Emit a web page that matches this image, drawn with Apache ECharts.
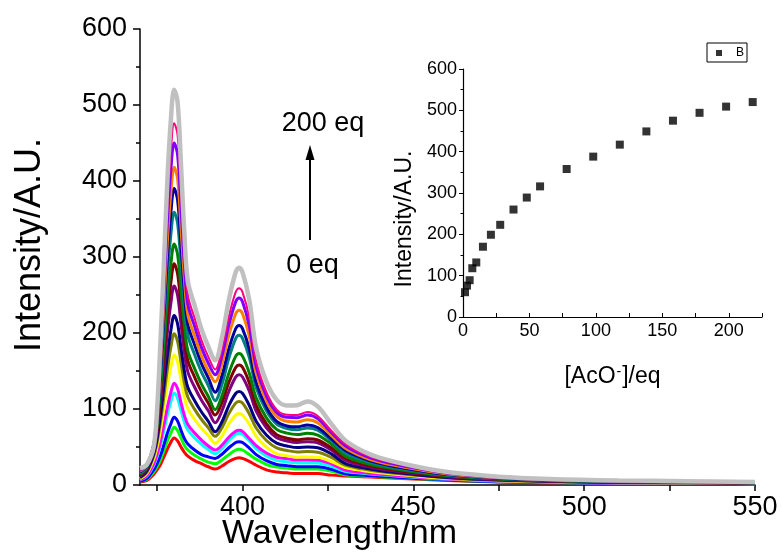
<!DOCTYPE html>
<html>
<head>
<meta charset="utf-8">
<script src="https://cdn.jsdelivr.net/npm/echarts@6/dist/echarts.min.js"></script>
<style>
html,body{margin:0;padding:0;background:#fff;}
#chart{width:782px;height:556px;}
</style>
</head>
<body>
<div id="chart"></div>
<script>
// ---- Data ----
const wavelengths = [370, 372, 374, 375, 376, 377, 378, 379, 380, 381, 382, 383, 384, 386, 388, 390, 392, 394, 396, 398, 399, 400, 402, 404, 407, 410, 413, 416, 419, 422, 426, 430, 435, 440, 450, 460, 475, 490, 510, 530, 550];

const eq000 = [4, 6, 14, 20, 27, 37, 47, 56, 62, 58, 50, 43, 38, 32, 28, 24, 21, 25, 31, 35, 36, 35, 31, 26, 20, 17, 16, 15, 15, 15, 13, 12, 11, 10, 8, 6, 4, 3, 2, 2, 1.5];
const eq01 = [5, 7.5, 17, 24, 33, 45, 58, 68, 76, 71.5, 62, 52, 46, 39, 34, 30, 28, 33, 40, 46, 47, 46, 40, 34, 27, 23.5, 22.4, 21, 21, 21, 18, 13.4, 12, 10.8, 8.5, 6.3, 4.2, 3.2, 2.1, 2.1, 1.6];
const eq02 = [5, 8.6, 20, 28, 39, 53, 68, 80, 89, 84, 72, 61, 54, 46, 40, 37, 35, 40.5, 49, 56, 57, 56, 48.5, 40, 32, 27, 25.5, 24, 24, 24, 20.7, 14.8, 13, 11.6, 9, 6.7, 4.4, 3.3, 2.2, 2.2, 1.7];
const eq03 = [6.3, 11.4, 25.7, 36.7, 52, 72, 92, 109, 121, 114, 98, 82.6, 72.3, 61.9, 53.6, 46.6, 41, 47.8, 58.6, 66.7, 68, 66.6, 57.8, 48, 38.2, 32.4, 30.6, 28.8, 29, 28.8, 24.7, 18.1, 15.4, 13.4, 10.2, 7.4, 4.9, 3.7, 2.5, 2.4, 1.8];
const eq04 = [6.9, 12.4, 28, 40, 57.4, 79.5, 102, 121, 134, 126.6, 108.5, 91.3, 79.7, 68.3, 59.1, 51.4, 46, 52.5, 62.9, 70.7, 72, 70.6, 61.2, 51.9, 42.1, 36.4, 34.7, 32.8, 33, 32.7, 28, 19.5, 16.4, 14.2, 10.7, 7.8, 5.1, 3.8, 2.6, 2.5, 1.9];
const eq05 = [8.3, 15.1, 33.8, 49.4, 72.2, 101, 130.4, 154.7, 171, 162, 138.5, 115.7, 100.4, 86.2, 74.7, 65, 55, 64.8, 80.4, 92, 94, 92, 80, 64.1, 49.9, 41.4, 38.5, 36.6, 37, 36.5, 30.9, 23.3, 19.2, 16.2, 12.1, 8.6, 5.7, 4.2, 3, 2.7, 2.1];
const eq06 = [9.4, 17, 37.8, 55.9, 83.1, 117, 151.8, 180.3, 199, 188.9, 161.2, 134, 115.7, 99.5, 86.2, 75.2, 64, 75.5, 93.9, 107.7, 110, 107.8, 93.5, 75, 58.5, 48.8, 45.5, 43.4, 44, 43.2, 36.4, 26.1, 21.2, 17.8, 13.1, 9.3, 6.1, 4.5, 3.2, 2.9, 2.3];
const eq07 = [10.3, 18.6, 40.8, 61.2, 92.3, 130.7, 170.3, 202.3, 223, 212, 180.6, 149.6, 128.6, 110.8, 96, 83.8, 70, 83.3, 104.5, 120.4, 123, 120.5, 104.6, 84, 65.7, 55, 51.4, 49.2, 50, 49, 41, 28.5, 22.9, 19.1, 14, 9.9, 6.5, 4.8, 3.4, 3.1, 2.4];
const eq08 = [11.9, 20.7, 44.8, 68.9, 106.6, 152.6, 200.3, 238.1, 262, 249.7, 212.2, 174.4, 148.9, 128.6, 111.5, 97.6, 82, 97.8, 123, 141.9, 145, 142.1, 123.3, 97.1, 75.1, 62.3, 58, 55.9, 57, 55.5, 46, 32.7, 26, 21.4, 15.5, 10.8, 7.1, 5.2, 3.8, 3.3, 2.6];
const eq09 = [13, 22.1, 47.4, 74.2, 117.1, 168.8, 222.6, 264.8, 291, 277.9, 235.7, 192.8, 163.7, 141.7, 122.8, 107.7, 92, 108.5, 134.9, 154.7, 158, 154.8, 134.3, 104.7, 80.4, 66.3, 61.6, 59.6, 61, 59.2, 48.8, 35.5, 28, 23, 16.5, 11.5, 7.5, 5.5, 4, 3.5, 2.8];
const eq10 = [14.1, 23.2, 49.1, 78.4, 126.2, 183.1, 242.7, 288.9, 317, 303.3, 256.8, 209, 176.5, 153.1, 132.7, 116.5, 99, 117.5, 147.1, 169.3, 173, 169.5, 147, 114.6, 88.4, 73.2, 68.2, 66.3, 68, 65.7, 53.9, 38.3, 30, 24.6, 17.5, 12.2, 7.9, 5.8, 4.2, 3.7, 2.9];
const eq11 = [15.7, 24.7, 51.3, 84.5, 140.5, 206.1, 275.2, 327.8, 359, 344.5, 290.8, 234.9, 196.8, 171.3, 148.5, 130.7, 111, 132.5, 166.9, 192.7, 197, 193, 167.5, 128.1, 97.6, 80.1, 74.4, 72.8, 75, 72.1, 58.4, 42.6, 33.1, 26.9, 19, 13.2, 8.6, 6.3, 4.6, 4, 3.1];
const eq12 = [17, 25.5, 52.1, 88.3, 150.5, 222.8, 299.2, 356.6, 390, 375, 315.9, 253.7, 211.2, 184.3, 159.8, 140.9, 122, 144, 179.2, 205.6, 210, 205.8, 178.5, 135.1, 102.3, 83.6, 77.7, 76.5, 79, 75.6, 60.8, 45.8, 35.5, 28.7, 20.2, 13.9, 9, 6.6, 4.9, 4.2, 3.3];
const eq13 = [18, 26.2, 52.5, 91.4, 159.5, 237.8, 320.9, 382.7, 418, 402.7, 338.6, 270.5, 224, 195.8, 169.8, 150, 136, 159.5, 197.1, 225.3, 230, 225.4, 195.5, 146.8, 110.8, 90.3, 83.9, 83, 86, 82, 65.4, 48.7, 37.5, 30.3, 21.3, 14.6, 9.5, 6.9, 5.1, 4.3, 3.5];
const eq14 = [19.3, 26.6, 52.2, 94.3, 169.3, 254.7, 345.8, 412.7, 450, 434.5, 364.5, 289.5, 238.2, 208.8, 181.1, 160.2, 145, 170.3, 210.7, 241, 246, 241, 209, 155.9, 117.4, 95.6, 89, 88.5, 92, 87.3, 69.1, 52, 39.9, 32.1, 22.5, 15.4, 10, 7.3, 5.4, 4.6, 3.6];
const eq15 = [20.2, 27, 52.1, 96.6, 177.3, 268.5, 366, 437, 476, 460.3, 385.6, 304.9, 249.7, 219.2, 190.2, 168.5, 152, 178.8, 221.6, 253.7, 259, 253.8, 220.2, 162.8, 122.1, 99.1, 92.4, 92.1, 96, 90.8, 71.4, 54.3, 41.6, 33.4, 23.3, 15.9, 10.3, 7.5, 5.6, 4.7, 3.8];
const eq200 = [22, 27, 50, 99, 190, 291, 400, 478, 520, 504, 421, 330, 268, 236, 205, 182, 164, 194.5, 243.3, 279.9, 286, 280, 243, 180, 136, 112, 104.5, 105, 110, 103.4, 80.3, 59, 45, 36, 25, 17, 11, 8, 6, 5, 4];

const spectra = [eq000, eq01, eq02, eq03, eq04, eq05, eq06, eq07, eq08, eq09, eq10, eq11, eq12, eq13, eq14, eq15, eq200];
const spectraColors = ['#FF0000', '#00FF00', '#0000FF', '#00FFFF', '#FF00FF', '#FFFF00', '#808000', '#000080', '#800080', '#800000', '#008000', '#008080', '#0000A0', '#FF8000', '#8000FF', '#FF0080', '#C0C0C0'];
const spectraWidths = [3, 3, 3, 3, 3, 3, 3, 3, 3, 3, 3, 3, 3, 3, 3, 2, 4.5];

const acoEq = [1.5, 3, 5, 7, 10, 15, 21, 28, 38, 48, 58, 78, 98, 118, 138, 158, 178, 198, 218];
const acoIntensity = [60, 76, 89, 118, 132, 170, 199, 223, 260, 289, 316, 358, 388, 417, 449, 475, 494, 509, 520];

const mainXTicks = [375, 400, 425, 450, 475, 500, 525, 550];
const mainXLabels = [400, 450, 500, 550];
const insetXTicks = [0, 25, 50, 75, 100, 125, 150, 175, 200, 225];
const insetXLabels = [0, 50, 100, 150, 200];

// ---- Chart ----
const FONT = '"Liberation Sans", Arial, Helvetica, sans-serif';
const chart = echarts.init(document.getElementById('chart'), null, {renderer: 'canvas'});

const lineSeries = spectra.map((vals, k) => ({
  type: 'line',
  name: 'spectrum ' + k,
  xAxisIndex: 0,
  yAxisIndex: 0,
  data: wavelengths.map((w, i) => [w, vals[i]]),
  showSymbol: false,
  symbol: 'none',
  smooth: 0.35,
  lineStyle: {color: spectraColors[k], width: spectraWidths[k]},
  itemStyle: {color: spectraColors[k]},
  silent: true,
  z: 2
}));

const axisLineStyle = {show: true, lineStyle: {color: '#000', width: 1.5}};

const option = {
  animation: false,
  backgroundColor: '#ffffff',
  textStyle: {fontFamily: FONT, color: '#000'},
  grid: [
    {left: 140, right: 27, top: 29, bottom: 71, containLabel: false, outerBoundsMode: 'none'},
    {left: 463, right: 20, top: 69, bottom: 239, containLabel: false, outerBoundsMode: 'none'}
  ],
  legend: {
    data: [{name: 'B', icon: 'rect'}],
    left: 707,
    top: 43,
    itemWidth: 6,
    itemHeight: 6,
    padding: [4, 3, 3, 9],
    borderColor: '#000',
    borderWidth: 1,
    textStyle: {fontSize: 12, color: '#000', fontFamily: FONT, padding: [0, 0, 0, 9]}
  },
  xAxis: [
    {
      gridIndex: 0, type: 'value', min: 370, max: 550,
      axisLine: axisLineStyle,
      axisTick: {show: true, customValues: mainXTicks, length: 6, lineStyle: {color: '#000', width: 1.5}},
      axisLabel: {customValues: mainXLabels, fontSize: 27, color: '#000', margin: 9, fontFamily: FONT},
      splitLine: {show: false},
      name: 'Wavelength/nm', nameLocation: 'middle', nameGap: 32, nameMoveOverlap: false,
      nameTextStyle: {fontSize: 34, color: '#000', fontFamily: FONT, padding: [0, 216, 0, 0]}
    },
    {
      gridIndex: 1, type: 'value', min: 0, max: 225,
      axisLine: {show: true, lineStyle: {color: '#000', width: 1.2}},
      axisTick: {show: true, inside: true, customValues: insetXTicks, length: 4, lineStyle: {color: '#000', width: 1}},
      axisLabel: {customValues: insetXLabels, fontSize: 18, color: '#000', margin: 5, fontFamily: FONT},
      splitLine: {show: false},
      name: '[AcO{sup|-}]/eq', nameLocation: 'middle', nameGap: 48, nameMoveOverlap: false,
      nameTextStyle: {
        fontSize: 23, color: '#000', fontFamily: FONT,
        rich: {sup: {fontSize: 14, color: '#000', fontFamily: FONT, verticalAlign: 'top', padding: [0, 1, 8, 1]}}
      }
    }
  ],
  yAxis: [
    {
      gridIndex: 0, type: 'value', min: 0, max: 600, interval: 100,
      axisLine: axisLineStyle,
      axisTick: {show: true, length: 7, lineStyle: {color: '#000', width: 1.5}},
      minorTick: {show: true, splitNumber: 2, length: 4, lineStyle: {color: '#000', width: 1.5}},
      axisLabel: {fontSize: 27, color: '#000', margin: 13, fontFamily: FONT},
      splitLine: {show: false},
      name: 'Intensity/A.U.', nameLocation: 'middle', nameGap: 92, nameRotate: 90, nameMoveOverlap: false,
      nameTextStyle: {fontSize: 36, color: '#000', fontFamily: FONT, padding: [0, 0, 0, 24]}
    },
    {
      gridIndex: 1, type: 'value', min: 0, max: 600, interval: 100,
      axisLine: {show: true, lineStyle: {color: '#000', width: 1.2}},
      axisTick: {show: true, length: 4, lineStyle: {color: '#000', width: 1}},
      minorTick: {show: true, splitNumber: 2, length: 2.5, lineStyle: {color: '#000', width: 1}},
      axisLabel: {fontSize: 18, color: '#000', margin: 6, fontFamily: FONT},
      splitLine: {show: false},
      name: 'Intensity/A.U.', nameLocation: 'middle', nameGap: 47, nameRotate: 90, nameMoveOverlap: false,
      nameTextStyle: {fontSize: 23, color: '#000', fontFamily: FONT, padding: [0, 52, 0, 0]}
    }
  ],
  series: lineSeries.concat([{
    type: 'scatter',
    name: 'B',
    xAxisIndex: 1,
    yAxisIndex: 1,
    symbol: 'rect',
    symbolSize: 8,
    itemStyle: {color: '#000'},
    data: acoEq.map((x, i) => [x, acoIntensity[i]]),
    z: 5
  }]),
  graphic: [
    {type: 'text', style: {x: 323, y: 124, text: '200 eq', textAlign: 'center', textVerticalAlign: 'middle', font: '27px ' + FONT, fill: '#000'}},
    {type: 'text', style: {x: 312.5, y: 266, text: '0 eq', textAlign: 'center', textVerticalAlign: 'middle', font: '27px ' + FONT, fill: '#000'}},
    {type: 'line', shape: {x1: 310, y1: 240, x2: 310, y2: 156}, style: {stroke: '#000', lineWidth: 2}},
    {type: 'polygon', shape: {points: [[310, 145], [305.5, 160], [314.5, 160]]}, style: {fill: '#000'}}
  ]
};

chart.setOption(option);
</script>
</body>
</html>
